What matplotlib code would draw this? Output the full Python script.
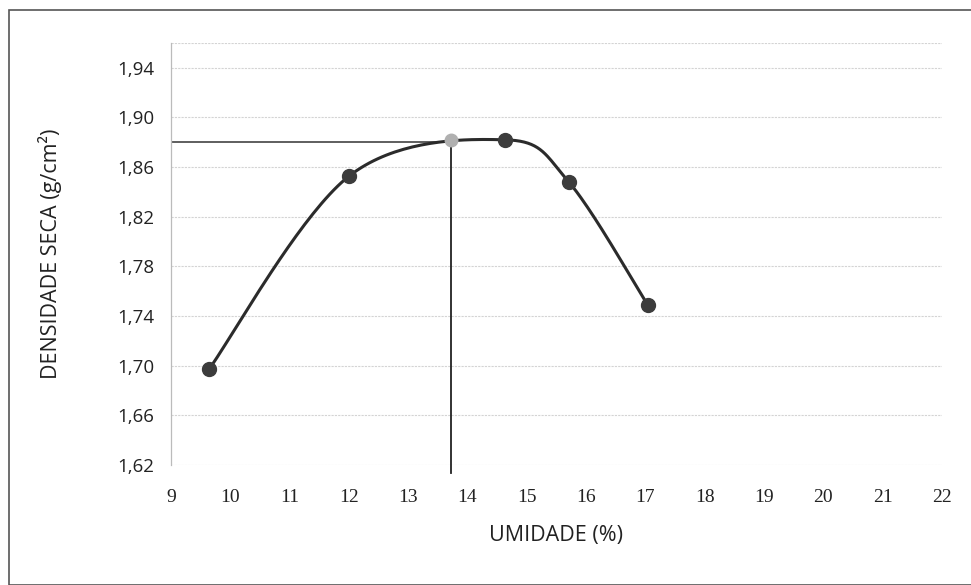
import numpy as np
import matplotlib
matplotlib.use("Agg")
import matplotlib.pyplot as plt
from matplotlib.patches import Rectangle

# compaction test points (umidade %, densidade seca g/cm3)
umidade = [9.64, 12.01, 14.64, 15.71, 17.04]
densidade = [1.697, 1.853, 1.882, 1.848, 1.749]
# optimum (grey point) and reference lines
w_otima = 13.73
d_max = 1.880
d_max_pt = 1.882

xticks = list(range(9, 23))
yticks = [1.62, 1.66, 1.70, 1.74, 1.78, 1.82, 1.86, 1.90, 1.94]


def smooth(xs, ys, n=40):
    # catmull-rom style smoothing, like the "smoothed line" option in spreadsheets
    pts = np.column_stack([xs, ys])
    pts = np.vstack([pts[0], pts, pts[-1]])
    out = []
    for i in range(1, len(pts) - 2):
        p0, p1, p2, p3 = pts[i - 1], pts[i], pts[i + 1], pts[i + 2]
        t = np.linspace(0, 1, n)[:, None]
        c = 0.5 * ((2 * p1) + (-p0 + p2) * t + (2 * p0 - 5 * p1 + 4 * p2 - p3) * t**2
                   + (-p0 + 3 * p1 - 3 * p2 + p3) * t**3)
        out.append(c)
    c = np.vstack(out)
    return c[:, 0], c[:, 1]


fig = plt.figure(figsize=(9.71, 5.85), dpi=100)
ax = fig.add_axes([0.176, 0.205, 0.794, 0.7215])

for y in yticks + [1.96]:
    ax.axhline(y, color="#d4d4d4", lw=0.8, ls=(0, (2, 1)), zorder=0)

sx, sy = smooth(umidade, densidade)
ax.plot(sx, sy, color="#2b2b2b", lw=2.2, zorder=3)
ax.plot(umidade, densidade, "o", color="#3c3c3c", ms=10, zorder=4)
ax.plot([w_otima], [d_max_pt], "o", color="#b0b0b0", ms=9, zorder=4)

# optimum lines
ax.plot([9, w_otima], [d_max, d_max], color="#333333", lw=1.1, zorder=2)
ax.plot([w_otima, w_otima], [1.614, d_max], color="#222222", lw=1.3, zorder=2, clip_on=False)

ax.set_xlim(9, 22)
ax.set_ylim(1.62, 1.96)
ax.set_xticks(xticks)
ax.set_yticks(yticks)
ax.set_yticklabels([f"{v:.2f}".replace(".", ",") for v in yticks],
                   fontsize=13.5, family="Open Sans", color="#222222")
ax.set_xticklabels([str(v) for v in xticks], fontsize=14,
                   family="Liberation Serif", color="#222222")
ax.tick_params(length=0, pad=12)
ax.tick_params(axis="x", pad=17)
for s in ["top", "right", "bottom"]:
    ax.spines[s].set_visible(False)
ax.spines["left"].set_color("#bbbbbb")
ax.spines["left"].set_linewidth(0.9)

ax.set_xlabel("UMIDADE (%)", fontsize=15.5, family="Open Sans", color="#222222", labelpad=14)
ax.set_ylabel("DENSIDADE SECA (g/cm²)", fontsize=15.5, family="Open Sans", color="#222222", labelpad=40)

fig.patches.append(Rectangle((0.009, 0.0), 1.2, 0.983, transform=fig.transFigure,
                             fill=False, edgecolor="#555555", lw=1.2))

fig.savefig("out.png", dpi=100)
